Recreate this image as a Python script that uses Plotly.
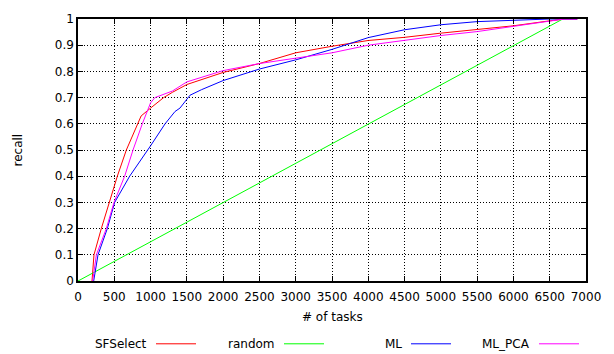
import plotly.graph_objects as go

# ---- data ----
sf_x = [193, 220, 321, 427, 542, 666, 817, 870, 1000, 1180, 1300, 1500, 2000, 2500, 3000, 3500, 4000, 4500, 5000, 5500, 6000, 6500, 6700, 6880]
sf_y = [0, 0.1, 0.2, 0.3, 0.4, 0.5, 0.6, 0.63, 0.66, 0.70, 0.72, 0.75, 0.796, 0.830, 0.871, 0.896, 0.918, 0.930, 0.946, 0.959, 0.974, 0.993, 1.0, 1.0]

rnd_x = [0, 1000, 2000, 3000, 4000, 5000, 6000, 6680]
rnd_y = [0, 0.15, 0.30, 0.45, 0.60, 0.75, 0.90, 1.0]

ml_x = [216, 276, 404, 505, 712, 965, 1000, 1200, 1337, 1405, 1543, 1700, 1911, 2000, 2500, 3000, 3500, 4000, 4500, 5000, 5500, 6000, 6500, 6880]
ml_y = [0, 0.1, 0.2, 0.3, 0.4, 0.5, 0.516, 0.60, 0.647, 0.66, 0.709, 0.73, 0.753, 0.765, 0.809, 0.844, 0.884, 0.929, 0.959, 0.978, 0.99, 0.995, 1.0, 1.0]

pca_x = [202, 253, 390, 496, 643, 758, 886, 960, 1000, 1060, 1180, 1300, 1500, 2000, 2500, 3000, 3500, 4000, 4500, 5000, 5500, 6000, 6500, 6700, 6880]
pca_y = [0, 0.1, 0.2, 0.3, 0.4, 0.5, 0.6, 0.65, 0.68, 0.70, 0.712, 0.725, 0.760, 0.803, 0.83, 0.85, 0.871, 0.90, 0.918, 0.937, 0.952, 0.971, 0.99, 1.0, 1.0]

names = ["SFSelect", "random", "ML", "ML_PCA"]
colors = ["#ff0000", "#00ff00", "#0000ff", "#ff00ff"]
series = [(sf_x, sf_y), (rnd_x, rnd_y), (ml_x, ml_y), (pca_x, pca_y)]

x_ticks = [0, 500, 1000, 1500, 2000, 2500, 3000, 3500, 4000, 4500, 5000, 5500, 6000, 6500, 7000]
y_ticks = [0, 0.1, 0.2, 0.3, 0.4, 0.5, 0.6, 0.7, 0.8, 0.9, 1]
y_labels = ["0", "0.1", "0.2", "0.3", "0.4", "0.5", "0.6", "0.7", "0.8", "0.9", "1"]

W, H = 614, 354
L, R, T, B = 78, 586, 14, 281
FONT = "DejaVu Sans"

fig = go.Figure()
for (xs, ys), n, c in zip(series, names, colors):
    fig.add_trace(go.Scatter(x=xs, y=ys, mode="lines", name=n,
                             line=dict(color=c, width=1), showlegend=False))

def px(xp):
    return (xp - L) / (R - L)

def py(yp):
    return (B - yp) / (B - T)

axis_common = dict(showline=True, linecolor="black", linewidth=1.5, mirror="allticks",
                   ticks="inside", ticklen=5, tickcolor="black", showgrid=True,
                   gridcolor="#000000", griddash="1px,2px", gridwidth=1, zeroline=False,
                   tickfont=dict(family=FONT, size=12, color="black"))

fig.update_xaxes(range=[0, 7000], tickvals=x_ticks, ticktext=[str(v) for v in x_ticks],
                 ticklabelstandoff=4, **axis_common)
fig.update_yaxes(range=[0, 1], tickvals=y_ticks, ticktext=y_labels, **axis_common)

annotations = [
    dict(text="# of tasks", x=px(332), y=py(318), xref="paper", yref="paper",
         showarrow=False, font=dict(family=FONT, size=12, color="black"),
         xanchor="center", yanchor="middle"),
    dict(text="recall", x=px(18), y=py(148), xref="paper", yref="paper",
         showarrow=False, textangle=-90, font=dict(family=FONT, size=12, color="black"),
         xanchor="center", yanchor="middle"),
]
shapes = []
line_starts = [156, 284, 411, 539]
for n, c, ls in zip(names, colors, line_starts):
    annotations.append(dict(text=n, x=px(ls - 7), y=py(345), xref="paper", yref="paper",
                            showarrow=False, xanchor="right", yanchor="middle",
                            font=dict(family=FONT, size=12, color="black")))
    shapes.append(dict(type="line", xref="paper", yref="paper",
                       x0=px(ls), x1=px(ls + 40), y0=py(345), y1=py(345),
                       line=dict(color=c, width=1)))

fig.update_layout(width=W, height=H, margin=dict(l=L, r=W - R, t=T, b=H - B),
                  plot_bgcolor="white", paper_bgcolor="white",
                  annotations=annotations, shapes=shapes, showlegend=False)

fig.write_html("out.html")
